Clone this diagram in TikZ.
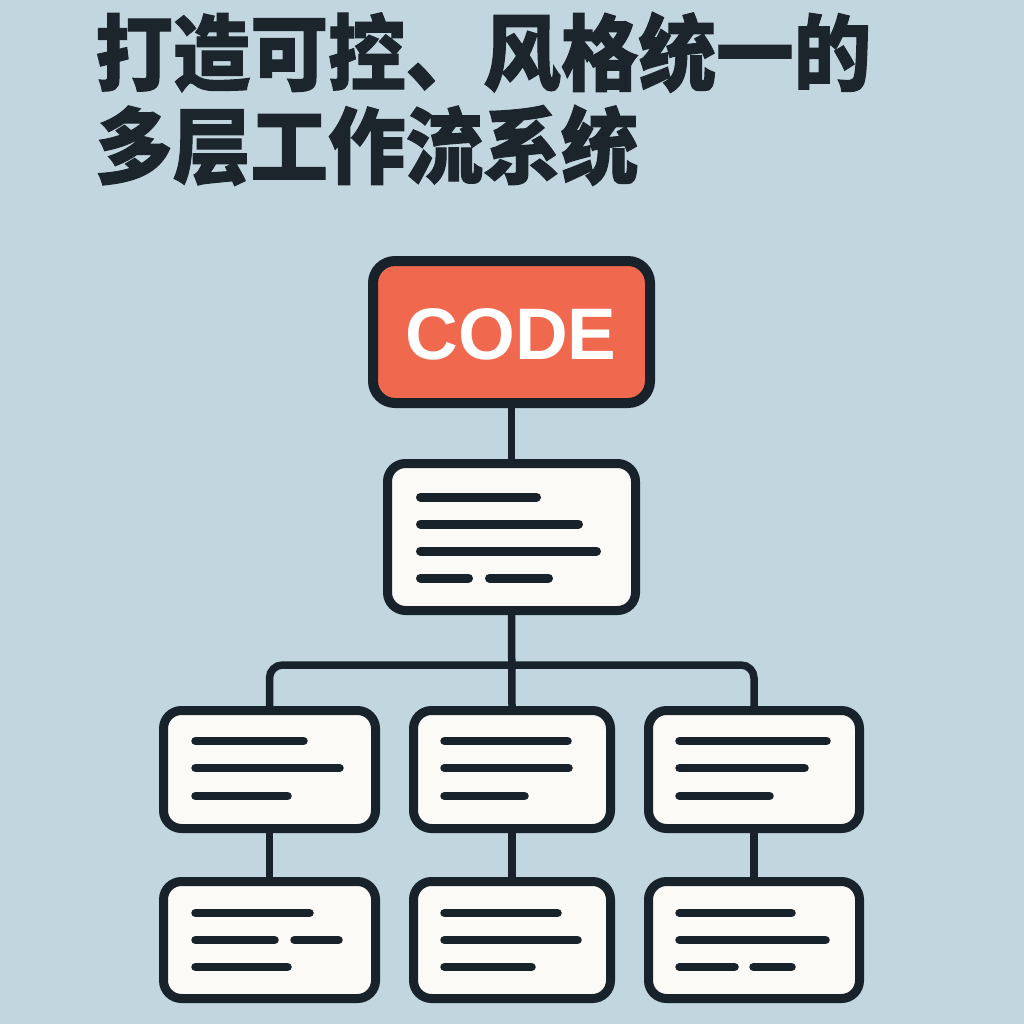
\documentclass[tikz,border=0pt]{standalone}
\usepackage{fontspec}
\usetikzlibrary{backgrounds}
\setmainfont{Liberation Sans}
\newfontfamily\cjk{Noto Sans CJK SC}[FakeStretch=0.935, BoldFeatures={FakeBold=1.2}]
\definecolor{bgc}{HTML}{C1D6DF}
\definecolor{inkc}{HTML}{18222A}
\definecolor{coral}{HTML}{F0684D}
\definecolor{paper}{HTML}{FCFAF6}
\definecolor{titlec}{HTML}{1C252C}
\tikzset{
  codebox/.style={draw=inkc, fill=coral, line width=10pt, rounded corners=22pt, inner sep=0pt},
  card/.style={draw=inkc, fill=paper, line width=9pt, rounded corners=18pt, inner sep=0pt},
  link/.style={draw=inkc, line width=7.5pt},
  bar/.style={draw=inkc, line width=8.5pt, line cap=round},
  titletext/.style={anchor=base west, inner sep=0pt, text=titlec, font=\cjk\bfseries\fontsize{83pt}{90pt}\selectfont}
}
\begin{document}
\begin{tikzpicture}[x=1pt,y=-1pt]
\useasboundingbox (0,0) rectangle (1024,1024);
% title
\node[titletext] (t1) at (95,84) {打造可控、风格统一的};
\node[titletext] (t2) at (95,177) {多层工作流系统};
% boxes
\node[codebox, minimum width=277pt, minimum height=142pt] (code) at (511.5,332) {};
\node[text=white, font=\bfseries\fontsize{73pt}{80pt}\selectfont, inner sep=0pt] (codetxt) at (511,334) {CODE};
\node[card, minimum width=248pt, minimum height=147pt] (mid) at (511.5,537) {};
\node[card, minimum width=212pt, minimum height=118pt] (r1a) at (269.5,769.5) {};
\node[card, minimum width=197pt, minimum height=118pt] (r1b) at (512,769.5) {};
\node[card, minimum width=211pt, minimum height=118pt] (r1c) at (754,769.5) {};
\node[card, minimum width=212pt, minimum height=117pt] (r2a) at (269.5,940) {};
\node[card, minimum width=197pt, minimum height=117pt] (r2b) at (512,940) {};
\node[card, minimum width=211pt, minimum height=117pt] (r2c) at (754,940) {};
\coordinate (junc) at (512,665);
% background and connectors behind the boxes
\begin{scope}[on background layer]
\fill[bgc] (0,0) rectangle (1024,1024);
\draw[link] (code.south) -- (mid.north);
\draw[link] (mid.south) -- (r1b.north);
\draw[link, rounded corners=13pt] (r1a.north) |- (junc) -| (r1c.north);
\draw[link] (r1a.south) -- (r2a.north);
\draw[link] (r1b.south) -- (r2b.north);
\draw[link] (r1c.south) -- (r2c.north);
\end{scope}
% text bars
\draw[bar, line width=9pt] (420.5,497) -- (536.5,497) (420.5,524) -- (578.5,524) (420.5,551) -- (596.5,551) (420.5,578) -- (468.5,578) (489.5,578) -- (548.5,578);
\draw[bar] (195.5,741) -- (303.5,741) (195.5,768) -- (339.5,768) (195.5,796) -- (287.5,796);
\draw[bar] (444.5,741) -- (567.5,741) (444.5,768) -- (568.5,768) (444.5,796) -- (524.5,796);
\draw[bar] (679.5,741) -- (826.5,741) (679.5,768) -- (804.5,768) (679.5,796) -- (769.5,796);
\draw[bar] (195.5,913) -- (309.5,913) (195.5,940) -- (274.5,940) (294.5,940) -- (338.5,940) (195.5,967) -- (287.5,967);
\draw[bar] (444.5,913) -- (557.5,913) (444.5,940) -- (577.5,940) (444.5,967) -- (531.5,967);
\draw[bar] (679.5,913) -- (791.5,913) (679.5,940) -- (825.5,940) (679.5,967) -- (734.5,967) (753.5,967) -- (791.5,967);
\end{tikzpicture}
\end{document}
